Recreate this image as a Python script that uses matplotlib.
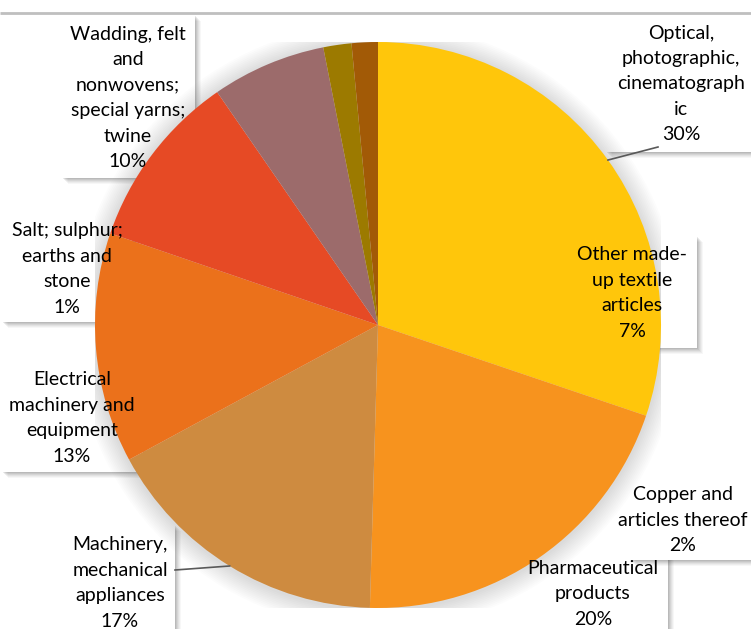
import matplotlib
matplotlib.use("Agg")
import matplotlib.pyplot as plt
from matplotlib.patches import Rectangle, Circle
import numpy as np

categories = [
    "Optical,\nphotographic,\ncinematograph\nic",
    "Pharmaceutical\nproducts",
    "Machinery,\nmechanical\nappliances",
    "Electrical\nmachinery and\nequipment",
    "Wadding, felt\nand\nnonwovens;\nspecial yarns;\ntwine",
    "Other made-\nup textile\narticles",
    "Copper and\narticles thereof",
    "Salt; sulphur;\nearths and\nstone",
]
values = [30.1, 20.2, 16.6, 13.1, 10.1, 6.5, 1.6, 1.49]
colors = ["#FFC60B", "#F7931E", "#CE8B40", "#EB711B", "#E64A25",
          "#9C6B6B", "#9C7A00", "#A25A06"]

W, H = 751, 629
fig = plt.figure(figsize=(W / 100, H / 100), dpi=100)
fig.patch.set_facecolor("white")

# pixel-layout helpers
cx, cy, R = 378, 325, 283
label_boxes = [  # x0, y0, x1, y1 in pixels
    (606, 15, 760, 152),
    (524, 550, 668, 640),
    (62, 525, 175, 640),
    (2, 362, 143, 472),
    (62, 15, 195, 178),
    (567, 236, 697, 348),
    (630, 475, 760, 560),
    (2, 212, 133, 322),
]
label_centers = [
    (681, 84), (593, 594), (120, 583), (72, 418),
    (128, 98), (632, 293), (683, 520), (67, 269),
]
leaders = {0: (658, 147), 2: (175, 570)}

# background axes: box shadows + white boxes
bg = fig.add_axes([0, 0, 1, 1], zorder=0)
bg.set_xlim(0, W); bg.set_ylim(H, 0); bg.axis("off")
bg.patch.set_alpha(0)
bg.plot([0, W], [13, 13], color="#BFBFBF", lw=2, solid_capstyle="butt")
for (x0, y0, x1, y1) in label_boxes:
    for k, a in zip(range(1, 7), [0.10, 0.09, 0.08, 0.06, 0.05, 0.04]):
        bg.add_patch(Rectangle((x0 + k, y0 + k), x1 - x0, y1 - y0,
                               facecolor="#404040", edgecolor="none", alpha=a))
    bg.add_patch(Rectangle((x0, y0), x1 - x0, y1 - y0,
                           facecolor="white", edgecolor="none"))

# pie axes
pax = fig.add_axes([(cx - R) / W, 1 - (cy + R) / H, 2 * R / W, 2 * R / H], zorder=1)
pax.patch.set_alpha(0)
for k in range(12):
    pax.add_patch(Circle((0, -0.005), 1 + 0.006 * (k + 1), facecolor="#808080",
                         edgecolor="none", alpha=0.025, zorder=0))
wedges, _ = pax.pie(values, colors=colors, startangle=90, counterclock=False,
                    radius=1, wedgeprops=dict(linewidth=0))
for w in wedges:
    w.set_zorder(2)
pax.set_xlim(-1, 1); pax.set_ylim(-1, 1)
pax.set_aspect("auto")
pax.axis("off")

# overlay axes: leader lines + text
ov = fig.add_axes([0, 0, 1, 1], zorder=2)
ov.set_xlim(0, W); ov.set_ylim(H, 0); ov.axis("off")
ov.patch.set_alpha(0)
total = sum(values)
cum = np.cumsum([0] + values)
for i, (cat, v) in enumerate(zip(categories, values)):
    txt = f"{cat}\n{v / total * 100:.0f}%"
    x, y = label_centers[i]
    ov.text(x, y, txt, ha="center", va="center", multialignment="center",
            fontsize=14, family=["Lato", "DejaVu Sans"], color="black",
            linespacing=1.6)
    if i in leaders:
        mid = (cum[i] + v / 2) / total * 2 * np.pi
        px = cx + R * np.sin(mid)
        py = cy - R * np.cos(mid)
        lx, ly = leaders[i]
        ov.plot([px, lx], [py, ly], color="#595959", lw=1.2)

fig.savefig("out.png", dpi=100)
